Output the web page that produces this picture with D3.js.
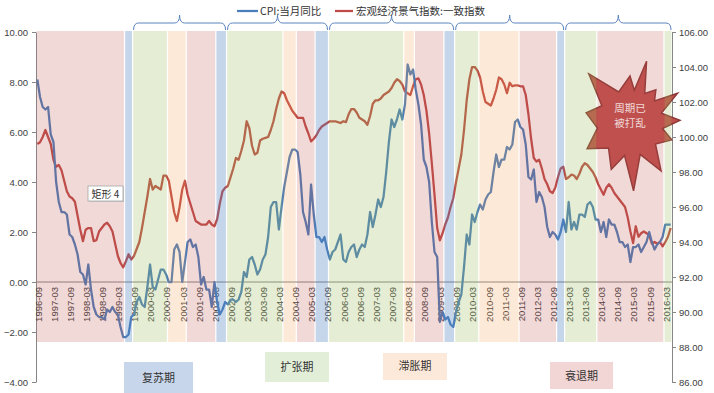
<!DOCTYPE html>
<html>
<head>
<meta charset="utf-8">
<script src="https://cdn.jsdelivr.net/npm/d3@7"></script>
<style>
  body { margin: 0; background: #fff; }
  svg { display: block; font-family: "Liberation Sans", "Noto Sans CJK SC", sans-serif; }
  .axis path, .axis line { stroke: #868686; }
  .axis text { fill: #404040; font-size: 9.5px; font-family: "Liberation Sans", sans-serif; }
  .cjk { font-family: "Noto Sans CJK SC", sans-serif; }
</style>
</head>
<body>
<svg id="chart" width="714" height="393"></svg>
<script>
'use strict'
// DATA
// monthly categories, 1996-09 .. 2016-05
const months = d3.timeMonth.range(new Date(1996, 8, 1), new Date(2016, 5, 1));
const fmtMonth = d3.timeFormat('%Y-%m');
const categories = months.map(fmtMonth);

// CPI: 当月同比 (left axis, %)
const cpi = [
  8.1, 7.4, 7.0, 6.9, 7.0,
  5.9, 5.6, 4.0, 3.2, 2.8, 2.8, 2.7, 1.9, 1.8, 1.5, 1.1, 0.4,
  0.3, -0.1, 0.7, -0.3, -1.0, -1.3, -1.4, -1.4, -1.5, -1.1, -1.2, -1.0,
  -1.2, -1.3, -1.8, -2.2, -2.2, -2.1, -1.4, -1.3, -0.8, -0.6, -0.9, -1.0,
  -0.2, 0.7, -0.2, -0.3, 0.1, 0.5, 0.5, 0.3, 0.0, 0.0, 1.3, 1.5,
  1.2, 0.0, 0.8, 1.6, 1.7, 1.4, 1.5, 1.0, -0.1, 0.2, -0.3, -0.3,
  -1.0, 0.0, -0.8, -1.3, -1.1, -0.8, -0.9, -0.7, -0.7, -0.8, -0.7, -0.4,
  0.4, 0.2, 0.9, 1.0, 0.7, 0.3, 0.5, 0.9, 1.1, 1.8, 3.0, 3.2,
  3.2, 2.1, 3.0, 3.8, 4.4, 5.0, 5.3, 5.3, 5.2, 4.3, 2.8, 2.4,
  1.9, 3.9, 2.7, 1.8, 1.8, 1.6, 1.8, 1.3, 0.9, 1.2, 1.3, 1.6,
  1.9, 0.9, 0.8, 1.2, 1.4, 1.5, 1.0, 1.3, 1.5, 1.4, 1.9, 2.8,
  2.2, 2.7, 3.3, 3.0, 3.4, 4.4, 5.6, 6.5, 6.2, 6.5, 6.9, 6.5,
  7.1, 8.7, 8.3, 8.5, 7.7, 7.1, 6.3, 4.9, 4.6, 4.0, 2.4, 1.2,
  1.0, -1.6, -1.2, -1.5, -1.4, -1.7, -1.8, -1.2, -0.8, -0.5, 0.6, 1.9,
  1.5, 2.7, 2.4, 2.8, 3.1, 2.9, 3.3, 3.5, 3.6, 4.4, 5.1, 4.6,
  4.9, 4.9, 5.4, 5.3, 5.5, 6.4, 6.5, 6.2, 6.1, 5.5, 4.2, 4.1,
  4.5, 3.2, 3.6, 3.4, 3.0, 2.2, 1.8, 2.0, 1.9, 1.7, 2.0, 2.5,
  2.0, 3.2, 2.1, 2.4, 2.1, 2.7, 2.7, 2.6, 3.1, 3.2, 3.0, 2.5,
  2.5, 2.0, 2.4, 1.8, 2.5, 2.3, 2.3, 2.0, 1.6, 1.6, 1.4, 1.5,
  0.8, 1.4, 1.4, 1.5, 1.2, 1.4, 1.6, 2.0, 1.6, 1.3, 1.5, 1.6,
  1.8, 2.3, 2.3, 2.3
];

// 宏观经济景气指数:一致指数 (right axis)
const climate = [
  99.6, 99.7, 100.0, 100.4, 100.0, 99.6, 98.7, 98.3, 98.4, 98.1,
  97.5, 96.9, 96.6, 96.5, 96.3, 95.5, 94.7, 94.05, 94.7, 94.8,
  94.8, 94.05, 94.1, 94.6, 94.8, 95.0, 95.1, 94.9, 94.6, 93.9,
  93.2, 92.8, 92.55, 92.9, 93.3, 93.0, 93.2, 93.6, 94.0, 94.8,
  95.7, 96.6, 97.6, 97.0, 97.2, 97.1, 97.0, 97.8, 97.8, 97.5,
  96.6, 95.7, 95.2, 96.0, 97.0, 97.5, 96.7, 96.2, 95.7, 95.2,
  95.1, 95.0, 95.0, 95.0, 95.2, 95.0, 94.9, 95.3, 96.2, 96.9,
  97.1, 97.2, 97.7, 98.2, 98.8, 98.7, 99.2, 99.8, 100.9, 100.5,
  99.5, 99.0, 99.1, 99.8, 99.9, 99.95, 100.0, 100.4, 100.9, 101.6,
  102.2, 102.6, 102.5, 102.1, 101.8, 101.5, 101.3, 101.1, 101.1, 101.1,
  100.6, 100.2, 99.75, 99.9, 100.1, 100.4, 100.6, 100.7, 100.8, 100.9,
  100.9, 100.9, 100.85, 100.8, 100.9, 100.85, 101.3, 101.6, 101.6, 101.4,
  101.1, 101.0, 100.9, 100.7, 101.2, 101.9, 102.1, 102.1, 102.2, 102.4,
  102.5, 102.6, 102.8, 103.1, 103.3, 103.2, 103.0, 102.6, 102.5, 102.4,
  102.9, 103.3, 103.35, 103.0, 102.4, 101.5, 100.2, 98.5, 96.7, 94.8,
  94.1, 94.5, 95.0, 95.4, 96.0, 96.5, 97.4, 98.2, 99.0, 100.4,
  102.1, 103.3, 104.0, 104.0, 103.8, 103.4, 102.6, 102.0, 101.9, 101.8,
  102.2, 102.7, 103.4, 103.3, 103.0, 102.5, 103.1, 102.9, 102.95, 102.95,
  102.9, 102.9, 102.4, 101.3, 99.9, 98.8, 98.6, 98.7, 98.2, 97.6,
  97.3, 96.9, 96.8, 97.1, 97.7, 98.2, 98.3, 97.6, 97.7, 97.85,
  97.8, 97.6, 97.9, 98.3, 98.5, 98.4, 98.2, 98.0, 97.7, 97.3,
  97.0, 96.7, 97.1, 97.3, 97.1, 96.8, 96.6, 96.4, 96.2, 96.0,
  95.4, 94.6, 93.94, 94.9, 94.3, 94.5, 94.6, 94.5, 94.4, 93.9,
  94.0, 93.9, 94.0, 93.75, 94.0, 94.3, 94.8
];

// tick labels
const leftTicks = [-4, -2, 0, 2, 4, 6, 8, 10];
const rightTicks = [86, 88, 90, 92, 94, 96, 98, 100, 102, 104, 106];

// cycle phases: first month, last month, phase
const phaseStart = ['1996-09', '1999-06', '1999-09', '2000-10', '2001-05', '2002-04', '2002-08', '2004-05', '2004-10', '2005-05', '2005-10',
  '2008-02', '2008-06', '2009-05', '2009-09', '2010-06', '2011-09', '2012-11', '2013-02', '2014-02', '2016-03'];
const phaseEnd = ['1999-05', '1999-08', '2000-09', '2001-04', '2002-03', '2002-07', '2004-04', '2004-09', '2005-04', '2005-09', '2008-01',
  '2008-05', '2009-04', '2009-08', '2010-05', '2011-08', '2012-10', '2013-01', '2014-01', '2016-02', '2016-05'];
const phaseOf = ['衰退期', '复苏期', '扩张期', '滞胀期', '衰退期', '复苏期', '扩张期', '滞胀期', '衰退期', '复苏期', '扩张期',
  '滞胀期', '衰退期', '复苏期', '扩张期', '滞胀期', '衰退期', '复苏期', '扩张期', '衰退期', '扩张期'];

// full cycles marked with braces
const cycleStart = ['1999-09', '2002-08', '2005-10', '2009-09', '2013-02'];
const cycleEnd = ['2002-07', '2005-09', '2009-08', '2013-01', '2016-05'];

// STYLE
const phaseColor = { '复苏期': '#4f81bd', '扩张期': '#9bbb59', '滞胀期': '#f79646', '衰退期': '#c0504d' };
const phaseAlpha = { '复苏期': 0.32, '扩张期': 0.26, '滞胀期': 0.21, '衰退期': 0.22 };
const keyFill = { '复苏期': '#c7d6ea', '扩张期': '#e2eed8', '滞胀期': '#fde9d9', '衰退期': '#f2d5d5' };

// CHART
const svg = d3.select('#chart');
const plot = { left: 36, right: 672, top: 32, bottom: 382 };

const xScale = d3.scaleBand(categories, [plot.left, plot.right]);
const bw = xScale.bandwidth();
const yLeft = d3.scaleLinear([-4, 10], [plot.bottom, plot.top]);
const yRight = d3.scaleLinear([86, 106], [plot.bottom, plot.top]);
const xMid = c => xScale(c) + bw / 2;

// LEFT AXIS
svg.append('g')
  .attr('class', 'axis')
  .attr('transform', `translate(${plot.left},0)`)
  .call(d3.axisLeft(yLeft).tickValues(leftTicks).tickFormat(d3.format('.2f')).tickSizeInner(4).tickSizeOuter(0).tickPadding(4));

// RIGHT AXIS
svg.append('g')
  .attr('class', 'axis')
  .attr('transform', `translate(${plot.right},0)`)
  .call(d3.axisRight(yRight).tickValues(rightTicks).tickFormat(d3.format('.2f')).tickSizeInner(4).tickSizeOuter(0).tickPadding(3));

// CATEGORY AXIS at zero
svg.append('line')
  .attr('x1', plot.left).attr('x2', plot.right)
  .attr('y1', yLeft(0)).attr('y2', yLeft(0))
  .attr('stroke', '#868686');

svg.append('g')
  .selectAll('text')
  .data(categories.filter((d, i) => i % 6 === 0))
  .join('text')
  .attr('transform', d => `translate(${xMid(d) + 1},${yLeft(0) + 5}) rotate(-90)`)
  .attr('dy', '0.35em')
  .attr('text-anchor', 'end')
  .style('font-size', '9.5px')
  .style('fill', '#404040')
  .text(d => d);

// LINES
const cpiLine = d3.line().x((d, i) => xMid(categories[i])).y(d => yLeft(d));
const climateLine = d3.line().x((d, i) => xMid(categories[i])).y(d => yRight(d));

svg.append('path')
  .datum(climate)
  .attr('d', climateLine)
  .attr('fill', 'none')
  .attr('stroke', '#be4b48')
  .attr('stroke-width', 2.25)
  .attr('stroke-linejoin', 'round');

svg.append('path')
  .datum(cpi)
  .attr('d', cpiLine)
  .attr('fill', 'none')
  .attr('stroke', '#4a7ebb')
  .attr('stroke-width', 2.25)
  .attr('stroke-linejoin', 'round');

// STARBURST NOTE
const starCenter = [630, 123];
const starTips = [[-130, 64], [-90, 47], [-75, 64], [-52, 42], [-32, 56], [-3, 50], [22, 45], [57, 57], [87, 68], [112, 50], [149, 50], [193, 45]];
const starInner = 33;
const starPts = [];
starTips.forEach((t, k) => {
  const next = starTips[(k + 1) % starTips.length];
  const a2 = k === starTips.length - 1 ? next[0] + 360 : next[0];
  const mid = (t[0] + a2) / 2;
  const rad = a => a * Math.PI / 180;
  starPts.push([starCenter[0] + t[1] * Math.cos(rad(t[0])), starCenter[1] + t[1] * Math.sin(rad(t[0]))]);
  starPts.push([starCenter[0] + starInner * Math.cos(rad(mid)), starCenter[1] + starInner * Math.sin(rad(mid))]);
});
svg.append('path')
  .attr('d', d3.line()(starPts) + 'Z')
  .attr('fill', '#c0504d')
  .attr('stroke', '#8c3836')
  .attr('stroke-width', 1.5)
  .attr('stroke-linejoin', 'miter');

const starText = svg.append('text')
  .attr('class', 'cjk')
  .attr('text-anchor', 'middle')
  .style('font-size', '10.5px')
  .style('fill', '#fff');
starText.append('tspan').attr('x', 630).attr('y', 112).text('周期已');
starText.append('tspan').attr('x', 630).attr('y', 127).text('被打乱');

// PHASE BANDS (translucent, over the lines)
svg.append('g')
  .selectAll('rect')
  .data(phaseOf.map((p, i) => ({ phase: p, start: phaseStart[i], end: phaseEnd[i] })))
  .join('rect')
  .attr('x', d => xScale(d.start) + 0.6)
  .attr('width', d => xScale(d.end) + bw - xScale(d.start) - 1.2)
  .attr('y', yLeft(10) - 1)
  .attr('height', yLeft(-2.4) - yLeft(10) + 1)
  .attr('fill', d => phaseColor[d.phase])
  .attr('fill-opacity', d => phaseAlpha[d.phase]);

// PHASE KEY BOXES
const keyBoxes = [
  { name: '复苏期', x: 124, y: 362, w: 69, h: 40, ty: 382 },
  { name: '扩张期', x: 265, y: 352, w: 64, h: 30, ty: 371 },
  { name: '滞胀期', x: 383, y: 353, w: 64, h: 27, ty: 370 },
  { name: '衰退期', x: 550, y: 362, w: 63, h: 27, ty: 380 }
];
const keys = svg.append('g').selectAll('g').data(keyBoxes).join('g');
keys.append('rect')
  .attr('x', d => d.x).attr('y', d => d.y)
  .attr('width', d => d.w).attr('height', d => d.h)
  .attr('fill', d => keyFill[d.name]);
keys.append('text')
  .attr('class', 'cjk')
  .attr('x', d => d.x + d.w / 2)
  .attr('y', d => d.ty)
  .attr('text-anchor', 'middle')
  .style('font-size', '11px')
  .style('fill', '#333')
  .text(d => d.name);

// SHAPE LABEL
svg.append('rect').attr('x', 89).attr('y', 187).attr('width', 35).attr('height', 15).attr('fill', '#c8c8c8');
svg.append('rect').attr('x', 88).attr('y', 186).attr('width', 35).attr('height', 15)
  .attr('fill', '#fff').attr('stroke', '#a6a6a6').attr('stroke-width', 0.8);
svg.append('text')
  .attr('class', 'cjk')
  .attr('x', 105.5).attr('y', 197.5)
  .attr('text-anchor', 'middle')
  .style('font-size', '10px')
  .style('fill', '#333')
  .text('矩形 4');

// CYCLE BRACES
const bracePath = (x1, x2) => {
  const m = (x1 + x2) / 2;
  return `M${x1},30 Q${x1},23 ${x1 + 5},23 L${m - 5},23 Q${m},23 ${m},15 Q${m},23 ${m + 5},23 L${x2 - 5},23 Q${x2},23 ${x2},30`;
};
svg.append('g')
  .selectAll('path')
  .data(cycleStart.map((s, i) => [s, cycleEnd[i]]))
  .join('path')
  .attr('d', d => bracePath(xScale(d[0]) + 1, xScale(d[1]) + bw - 1))
  .attr('fill', 'none')
  .attr('stroke', '#5b84bd')
  .attr('stroke-width', 1);

// LEGEND
const legend = svg.append('g').attr('class', 'cjk');
legend.append('line').attr('x1', 237).attr('x2', 258).attr('y1', 11).attr('y2', 11)
  .attr('stroke', '#4a7ebb').attr('stroke-width', 2.25);
legend.append('text').attr('x', 260).attr('y', 15).style('font-size', '10.5px').style('fill', '#333').text('CPI:当月同比');
legend.append('line').attr('x1', 335).attr('x2', 353).attr('y1', 11).attr('y2', 11)
  .attr('stroke', '#be4b48').attr('stroke-width', 2.25);
legend.append('text').attr('x', 356).attr('y', 15).style('font-size', '10.5px').style('fill', '#333').text('宏观经济景气指数:一致指数');
</script>
</body>
</html>
